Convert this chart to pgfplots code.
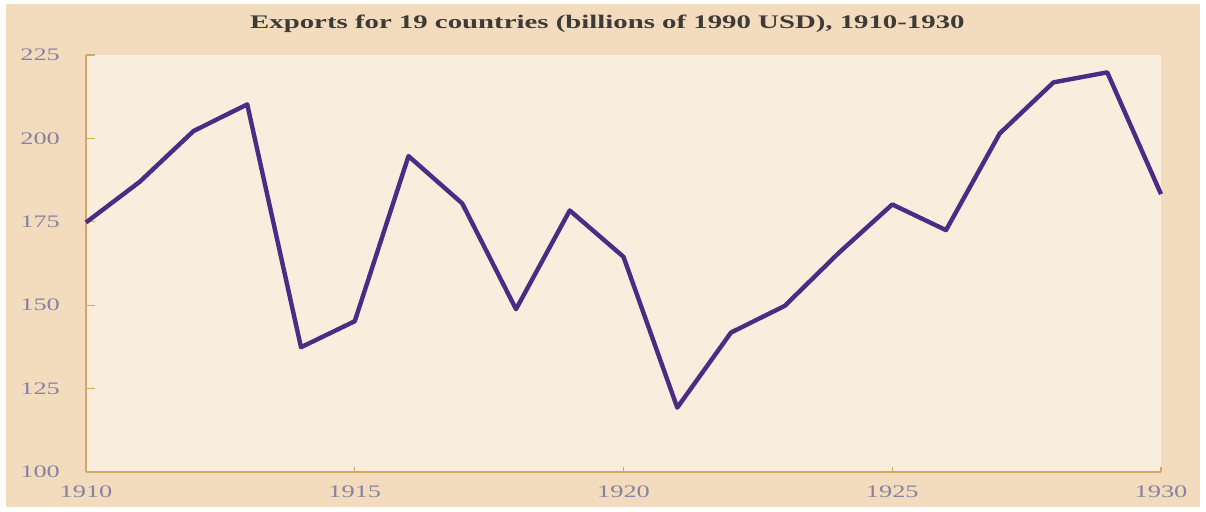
\documentclass[border=0pt]{standalone}
\usepackage{pgfplots}
\pgfplotsset{compat=1.18}
\usepackage{fontspec}
\setmainfont[FakeStretch=1.5]{Liberation Serif}
\definecolor{outerbg}{RGB}{243,220,189}
\definecolor{innerbg}{RGB}{249,237,222}
\definecolor{axiscol}{RGB}{212,166,102}
\definecolor{ticklab}{RGB}{135,130,165}
\definecolor{linecol}{RGB}{76,43,132}
\definecolor{titlecol}{RGB}{62,58,54}
\begin{document}
\begin{tikzpicture}[x=1pt,y=1pt]
\path[use as bounding box, fill=white] (0,0) rectangle (603,255.5);
\fill[outerbg] (3,2) rectangle (600,253.5);
\node[font=\fontsize{9.6}{11}\selectfont\bfseries, text=titlecol] at (303.7,243.6) {Exports for 19 countries (billions of 1990 USD), 1910-1930};
\begin{axis}[
  at={(43pt,19.5pt)}, anchor=south west,
  scale only axis, width=537.5pt, height=208.5pt,
  xmin=1910, xmax=1930, ymin=100, ymax=225,
  axis lines=left, axis line style={draw=axiscol, line width=0.75pt, -},
  axis background/.style={fill=innerbg},
  xtick={1910,1915,1920,1925,1930},
  ytick={100,125,150,175,200,225},
  tick align=inside,
  major tick length=4.5pt,
  xtick style={draw=axiscol, line width=0.6pt, /pgfplots/major tick length=2.5pt},
  ytick style={draw=axiscol, line width=0.6pt},
  xticklabel style={text=ticklab, font=\fontsize{8.8}{10}\selectfont, yshift=-3.3pt},
  yticklabel style={text=ticklab, font=\fontsize{8.8}{10}\selectfont, xshift=-9.5pt},
  /pgf/number format/assume math mode=true,
  /pgf/number format/1000 sep={},
  clip=false,
]
\addplot[linecol, line width=2.2pt, line join=round] coordinates {
(1910,174.8) (1911,187.0) (1912,202.2) (1913,210.2) (1914,137.4)
(1915,145.2) (1916,194.7) (1917,180.5) (1918,148.8) (1919,178.4)
(1920,164.5) (1921,119.3) (1922,141.8) (1923,149.8) (1924,165.6)
(1925,180.2) (1926,172.5) (1927,201.5) (1928,216.8) (1929,219.8)
(1930,183.3)
};
\end{axis}
\end{tikzpicture}
\end{document}
